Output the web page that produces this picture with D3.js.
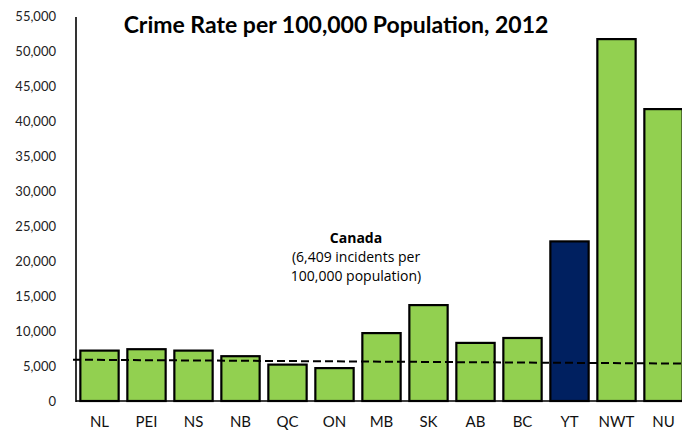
<!DOCTYPE html>
<html>
<head>
<meta charset="utf-8">
<script src="https://cdn.jsdelivr.net/npm/d3@7"></script>
<style>
  html, body { margin: 0; padding: 0; background: #fff; }
  svg { display: block; }
</style>
</head>
<body>
<svg id="chart" width="682" height="430"></svg>
<script>
const categories = ["NL","PEI","NS","NB","QC","ON","MB","SK","AB","BC","YT","NWT","NU"];
const rates = [7200, 7400, 7200, 6400, 5200, 4700, 9700, 13700, 8300, 9000, 22800, 51700, 41700];
const highlighted = ["YT"];
const yTicks = [0, 5000, 10000, 15000, 20000, 25000, 30000, 35000, 40000, 45000, 50000, 55000];
const canadaLine = [5900, 5350]; // dashed reference line, drawn value at left and right ends
const titleText = "Crime Rate per 100,000 Population, 2012";
const noteLines = ["Canada", "(6,409 incidents per", "100,000 population)"];

const svg = d3.select("#chart");
const axisX = 76, zeroY = 401, topY = 16;

const x = d3.scaleBand().domain(categories).range([76, 687]).paddingInner(0.185).paddingOuter(0.0925);
const y = d3.scaleLinear().domain([0, 55000]).range([zeroY, topY]);

// y tick labels
svg.append("g").selectAll("text").data(yTicks).join("text")
  .attr("x", 56).attr("y", d => y(d)).attr("dy", "0.35em")
  .attr("text-anchor", "end")
  .attr("font-family", "Lato, 'Open Sans', sans-serif")
  .attr("font-size", 13).attr("fill", "#222")
  .text(d => d3.format(",")(d));

// bars
svg.append("g").selectAll("rect").data(categories).join("rect")
  .attr("x", d => x(d))
  .attr("y", (d, i) => y(rates[i]))
  .attr("width", x.bandwidth())
  .attr("height", (d, i) => zeroY - y(rates[i]))
  .attr("fill", d => highlighted.includes(d) ? "#002060" : "#92d050")
  .attr("stroke", "#000").attr("stroke-width", 2.2);

// axes lines
svg.append("line").attr("x1", axisX).attr("x2", axisX).attr("y1", topY + 1).attr("y2", zeroY + 1)
  .attr("stroke", "#000").attr("stroke-width", 1.6);
svg.append("line").attr("x1", axisX).attr("x2", 682).attr("y1", zeroY).attr("y2", zeroY)
  .attr("stroke", "#000").attr("stroke-width", 1.6);

// Canada dashed line
svg.append("line")
  .attr("x1", 73).attr("x2", 682)
  .attr("y1", y(canadaLine[0])).attr("y2", y(canadaLine[1]))
  .attr("stroke", "#000").attr("stroke-width", 2).attr("stroke-dasharray", "8,4");

// category labels
svg.append("g").selectAll("text").data(categories).join("text")
  .attr("x", d => x(d) + x.bandwidth() / 2).attr("y", 427)
  .attr("text-anchor", "middle")
  .attr("font-family", "Lato, 'Open Sans', sans-serif")
  .attr("font-size", 15).attr("fill", "#111")
  .text(d => d);

// title
svg.append("text").attr("x", 336).attr("y", 33).attr("text-anchor", "middle")
  .attr("font-family", "Lato, 'Open Sans', sans-serif").attr("font-weight", "bold")
  .attr("font-size", 23).attr("fill", "#000")
  .text(titleText);

// annotation
svg.append("g").selectAll("text").data(noteLines).join("text")
  .attr("x", 356).attr("y", (d, i) => 243 + i * 19)
  .attr("text-anchor", "middle")
  .attr("font-family", "'Open Sans', Lato, sans-serif")
  .attr("font-weight", (d, i) => i === 0 ? "bold" : "normal")
  .attr("font-size", 14).attr("fill", "#000")
  .text(d => d);
</script>
</body>
</html>
